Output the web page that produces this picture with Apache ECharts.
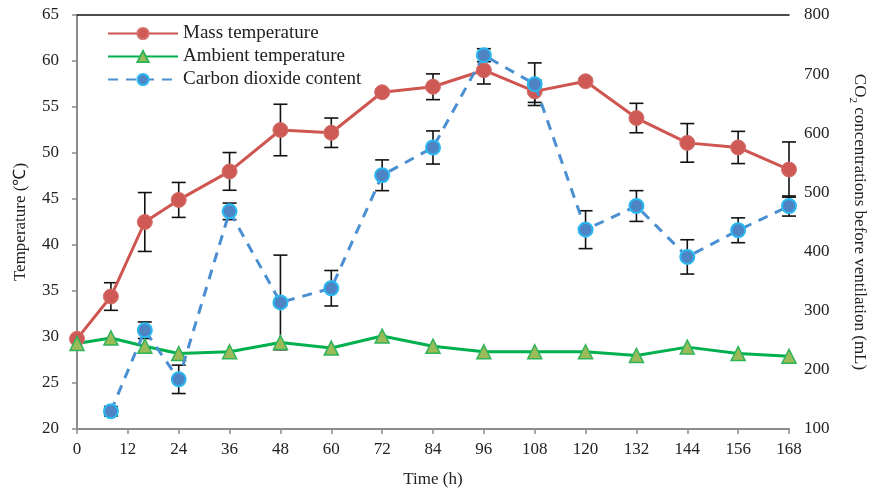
<!DOCTYPE html>
<html><head><meta charset="utf-8">
<script src="https://cdn.jsdelivr.net/npm/echarts@6/dist/echarts.min.js"></script>
<style>html,body{margin:0;padding:0;background:#fff}#c{width:870px;height:492px}</style>
</head><body><div id="c"></div>
<script>
const xTicks = [0, 12, 24, 36, 48, 60, 72, 84, 96, 108, 120, 132, 144, 156, 168];
const leftTicks = [20, 25, 30, 35, 40, 45, 50, 55, 60, 65];
const rightTicks = [100, 200, 300, 400, 500, 600, 700, 800];
const timeMass = [0, 8, 16, 24, 36, 48, 60, 72, 84, 96, 108, 120, 132, 144, 156, 168];
const massTemp = [29.8, 34.4, 42.5, 44.9, 48.0, 52.5, 52.2, 56.6, 57.2, 59.0, 56.7, 57.8, 53.8, 51.1, 50.6, 48.2];
const massErr  = [0.3, 1.5, 3.2, 1.9, 2.05, 2.8, 1.6, 0.3, 1.4, 1.5, 1.2, 0.3, 1.6, 2.1, 1.75, 3.0];
const timeAmb = [0, 8, 16, 24, 36, 48, 60, 72, 84, 96, 108, 120, 132, 144, 156, 168];
const ambTemp = [29.3, 29.9, 29.0, 28.2, 28.4, 29.4, 28.8, 30.1, 29.0, 28.4, 28.4, 28.4, 28.0, 28.9, 28.2, 27.9];
const timeCO2 = [8, 16, 24, 36, 48, 60, 72, 84, 96, 108, 120, 132, 144, 156, 168];
const co2 = [130, 267, 184, 468, 314, 338, 529, 576, 732, 683, 437, 477, 391, 436, 477];
const co2Err = [8, 14, 24, 14, 80, 30, 26, 28, 11, 36, 32, 26, 29, 21, 17];

const FONT = 'Liberation Serif';
const chart = echarts.init(document.getElementById('c'), null, {renderer: 'canvas'});

function pairs(xs, ys) { return xs.map((x, i) => [x, ys[i]]); }
function errData(xs, ys, es) { return xs.map((x, i) => [x, ys[i] - es[i], ys[i] + es[i]]); }
function errRender(params, api) {
  const x = api.value(0);
  const lo = api.coord([x, api.value(1)]);
  const hi = api.coord([x, api.value(2)]);
  const w = 7;
  const st = {stroke: '#111', lineWidth: 1.6};
  return {type: 'group', children: [
    {type: 'line', shape: {x1: lo[0], y1: lo[1], x2: hi[0], y2: hi[1]}, style: st},
    {type: 'line', shape: {x1: lo[0] - w, y1: lo[1], x2: lo[0] + w, y2: lo[1]}, style: st},
    {type: 'line', shape: {x1: hi[0] - w, y1: hi[1], x2: hi[0] + w, y2: hi[1]}, style: st}
  ]};
}

const axisGrey = '#8c8c8c';
chart.setOption({
  animation: false,
  backgroundColor: '#fff',
  textStyle: {fontFamily: FONT},
  grid: {left: 77, right: 81, top: 15, bottom: 63, containLabel: false, outerBoundsMode: 'none'},
  legend: {
    left: 107, top: 24, orient: 'vertical', itemWidth: 70, itemHeight: 14, itemGap: 4, padding: 0,
    textStyle: {fontFamily: FONT, fontSize: 19, color: '#222'},
    data: ['Mass temperature', 'Ambient temperature', 'Carbon dioxide content']
  },
  xAxis: [{
    type: 'value', min: 0, max: 168, interval: 12,
    name: 'Time (h)', nameLocation: 'middle', nameGap: 42,
    nameTextStyle: {fontFamily: FONT, fontSize: 17, color: '#222'},
    axisLine: {lineStyle: {color: axisGrey, width: 2}},
    axisTick: {show: true, length: 5, customValues: xTicks, lineStyle: {color: axisGrey, width: 1.5}},
    axisLabel: {fontFamily: FONT, fontSize: 17, color: '#222', margin: 12, customValues: xTicks},
    minorTick: {show: false},
    splitLine: {show: false}
  }, {
    type: 'value', min: 0, max: 168, position: 'top',
    axisLine: {show: true, onZero: false, lineStyle: {color: '#111', width: 1.5}},
    axisTick: {show: false}, axisLabel: {show: false}, splitLine: {show: false}
  }],
  yAxis: [{
    type: 'value', min: 20, max: 65, interval: 5, position: 'left',
    name: 'Temperature (℃)', nameLocation: 'middle', nameGap: 48, nameRotate: 90,
    nameTextStyle: {fontFamily: FONT, fontSize: 17, color: '#222'},
    axisLine: {show: true, lineStyle: {color: axisGrey, width: 2}},
    axisTick: {show: true, length: 5, customValues: leftTicks, lineStyle: {color: axisGrey, width: 1.5}},
    axisLabel: {fontFamily: FONT, fontSize: 17, color: '#222', margin: 18, customValues: leftTicks},
    minorTick: {show: false},
    splitLine: {show: false}
  }, {
    type: 'value', min: 100, max: 800, interval: 100, position: 'right',
    name: '{n|CO}{s|2}{n| concentrations before ventilation (mL)}',
    nameLocation: 'middle', nameGap: 58, nameRotate: -90,
    nameTextStyle: {
      fontFamily: FONT, fontSize: 17, color: '#222',
      rich: {
        n: {fontFamily: FONT, fontSize: 17, color: '#222', lineHeight: 24, verticalAlign: 'middle'},
        s: {fontFamily: FONT, fontSize: 11, color: '#222', lineHeight: 24, verticalAlign: 'bottom'}
      }
    },
    axisLine: {show: true, lineStyle: {color: axisGrey, width: 2}},
    axisTick: {show: false},
    axisLabel: {fontFamily: FONT, fontSize: 17, color: '#222', margin: 15, customValues: rightTicks},
    minorTick: {show: false},
    splitLine: {show: false}
  }],
  series: [
    {
      type: 'custom', name: 'massErr', xAxisIndex: 0, yAxisIndex: 0, z: 1,
      renderItem: errRender, data: errData(timeMass, massTemp, massErr), silent: true
    },
    {
      type: 'custom', name: 'co2Err', xAxisIndex: 0, yAxisIndex: 1, z: 1,
      renderItem: errRender, data: errData(timeCO2, co2, co2Err), silent: true
    },
    {
      name: 'Mass temperature', type: 'line', xAxisIndex: 0, yAxisIndex: 0, z: 3,
      data: pairs(timeMass, massTemp), symbol: 'circle', symbolSize: 15,
      lineStyle: {color: '#cf5550', width: 3},
      itemStyle: {color: '#cf5a55', borderColor: '#d4716c', borderWidth: 1}
    },
    {
      name: 'Ambient temperature', type: 'line', xAxisIndex: 0, yAxisIndex: 0, z: 3,
      data: pairs(timeAmb, ambTemp), symbol: 'triangle', symbolSize: 14,
      lineStyle: {color: '#00b04f', width: 3},
      itemStyle: {color: '#9bbb59', borderColor: '#2fb45a', borderWidth: 1.5}
    },
    {
      name: 'Carbon dioxide content', type: 'line', xAxisIndex: 0, yAxisIndex: 1, z: 4,
      data: pairs(timeCO2, co2), symbol: 'circle', symbolSize: 14,
      lineStyle: {color: '#4a8fd2', width: 3, type: [10, 8]},
      itemStyle: {color: '#4f84c4', borderColor: '#2ab8f0', borderWidth: 2}
    }
  ]
});
</script></body></html>
